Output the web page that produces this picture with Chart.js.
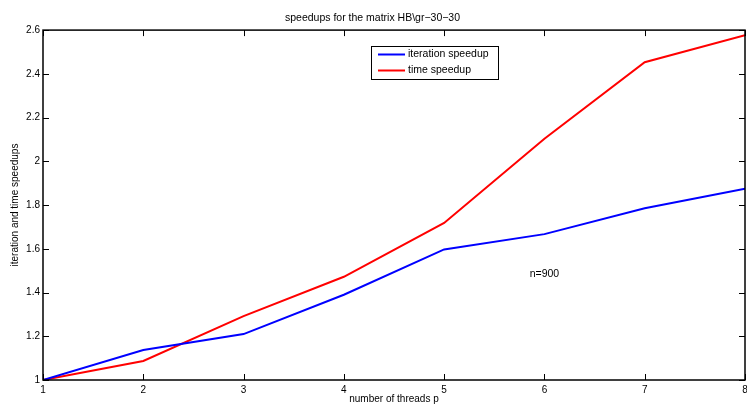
<!DOCTYPE html>
<html>
<head>
<meta charset="utf-8">
<script src="https://cdn.jsdelivr.net/npm/chart.js"></script>
<style>
  body { margin: 0; background: #fff; }
  canvas { display: block; }
</style>
</head>
<body>
<canvas id="graph" width="747" height="405"></canvas>
<script>
const threads = [1, 2, 3, 4, 5, 6, 7, 8];
const iterationSpeedup = [1.0, 1.137, 1.21, 1.39, 1.597, 1.667, 1.785, 1.875];
const timeSpeedup = [1.0, 1.087, 1.292, 1.472, 1.718, 2.103, 2.453, 2.577];
const yTicks = [1, 1.2, 1.4, 1.6, 1.8, 2, 2.2, 2.4, 2.6];
const yTickLabels = ['1', '1.2', '1.4', '1.6', '1.8', '2', '2.2', '2.4', '2.6'];
const noteText = 'n=900';

Chart.defaults.font.family = '"Liberation Sans", Arial, sans-serif';
Chart.defaults.font.size = 10;
Chart.defaults.color = '#000';

// matlab style box, inward ticks, legend box and the n= note
const matlabBox = {
    id: 'matlabBox',
    afterDraw(chart) {
        const ctx = chart.ctx;
        const a = chart.chartArea;
        const xs = chart.scales.x, ys = chart.scales.y;
        ctx.save();
        ctx.strokeStyle = '#000';
        ctx.lineWidth = 1;
        ctx.beginPath();
        threads.forEach(t => {
            const px = Math.round(xs.getPixelForValue(t)) + 0.5;
            ctx.moveTo(px, a.bottom); ctx.lineTo(px, a.bottom - 6);
            ctx.moveTo(px, a.top); ctx.lineTo(px, a.top + 6);
        });
        yTicks.forEach(v => {
            const py = Math.round(ys.getPixelForValue(v)) + 0.5;
            ctx.moveTo(a.left, py); ctx.lineTo(a.left + 6, py);
            ctx.moveTo(a.right, py); ctx.lineTo(a.right - 6, py);
        });
        ctx.stroke();
        ctx.lineWidth = 1.5;
        ctx.strokeRect(a.left, a.top, a.right - a.left, a.bottom - a.top);

        // legend
        const lx = 371, ly = 46, lw = 127, lh = 33;
        ctx.fillStyle = '#fff';
        ctx.fillRect(lx, ly, lw, lh);
        ctx.lineWidth = 1;
        ctx.strokeRect(lx + 0.5, ly + 0.5, lw, lh);
        ctx.font = '10.5px "Liberation Sans", Arial, sans-serif';
        ctx.textBaseline = 'middle';
        chart.data.datasets.forEach((ds, i) => {
            const y = ly + 8.5 + i * 16;
            ctx.strokeStyle = ds.borderColor;
            ctx.lineWidth = 2;
            ctx.beginPath();
            ctx.moveTo(lx + 7, y); ctx.lineTo(lx + 34, y);
            ctx.stroke();
            ctx.fillStyle = '#000';
            ctx.fillText(ds.label, lx + 37, y);
        });

        // note
        ctx.textAlign = 'center';
        ctx.fillText(noteText, xs.getPixelForValue(6), ys.getPixelForValue(1.484));
        ctx.restore();
    }
};

new Chart(document.getElementById('graph').getContext('2d'), {
    type: 'line',
    data: {
        datasets: [
            {
                label: 'iteration speedup',
                data: threads.map((t, i) => ({ x: t, y: iterationSpeedup[i] })),
                borderColor: '#0000ff',
                borderWidth: 2,
                pointRadius: 0,
                tension: 0
            },
            {
                label: 'time speedup',
                data: threads.map((t, i) => ({ x: t, y: timeSpeedup[i] })),
                borderColor: '#ff0000',
                borderWidth: 2,
                pointRadius: 0,
                tension: 0
            }
        ]
    },
    options: {
        responsive: false,
        animation: false,
        layout: { padding: { left: 0, right: 2, top: 0, bottom: 0 } },
        plugins: {
            legend: { display: false },
            tooltip: { enabled: false },
            title: {
                display: true,
                text: 'speedups for the matrix HB\\gr\u221230\u221230',
                font: { size: 10.5, weight: 'normal' },
                padding: { top: 12, bottom: 5.5 }
            }
        },
        scales: {
            x: {
                type: 'linear',
                min: 1,
                max: 8,
                afterBuildTicks: s => { s.ticks = threads.map(v => ({ value: v })); },
                afterFit: s => { s.height = 25; s.paddingRight = 0; s.paddingLeft = 0; },
                grid: { display: false, drawTicks: false },
                border: { display: false },
                ticks: { padding: 4, maxRotation: 0 },
                title: {
                    display: true,
                    text: 'number of threads p',
                    padding: { top: 0, bottom: 0 }
                }
            },
            y: {
                min: 1,
                max: 2.6,
                afterBuildTicks: s => { s.ticks = yTicks.map(v => ({ value: v })); },
                afterFit: s => { s.width = 43; s.paddingTop = 0; s.paddingBottom = 0; },
                grid: { display: false, drawTicks: false },
                border: { display: false },
                ticks: {
                    padding: 3,
                    callback: (v, i) => yTickLabels[i]
                },
                title: {
                    display: true,
                    text: 'iteration and time speedups',
                    padding: { top: 9, bottom: 0 }
                }
            }
        }
    },
    plugins: [matlabBox]
});
</script>
</body>
</html>
